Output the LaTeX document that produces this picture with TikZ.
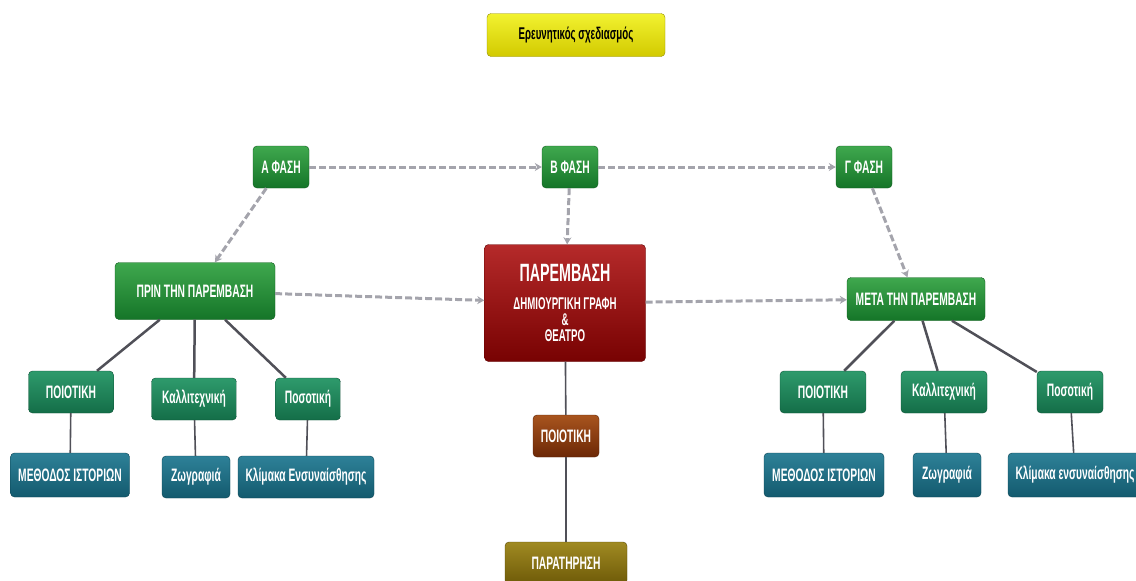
\documentclass[tikz,border=0pt]{standalone}
\usepackage{fontspec}
\setmainfont[FakeStretch=0.57]{Liberation Sans}
\usetikzlibrary{arrows.meta}

\definecolor{phasetop}{HTML}{3FA84E}
\definecolor{phasebot}{HTML}{157528}
\definecolor{phaseline}{HTML}{0E5A1C}
\definecolor{kindtop}{HTML}{2E9A6C}
\definecolor{kindbot}{HTML}{146E48}
\definecolor{kindline}{HTML}{0C5236}
\definecolor{tooltop}{HTML}{2E8198}
\definecolor{toolbot}{HTML}{135A6E}
\definecolor{toolline}{HTML}{0B4352}
\definecolor{redtop}{HTML}{B52A2A}
\definecolor{redbot}{HTML}{780202}
\definecolor{brtop}{HTML}{A8541E}
\definecolor{brbot}{HTML}{6C2806}
\definecolor{olivetop}{HTML}{A08A22}
\definecolor{olivebot}{HTML}{6E5A08}
\definecolor{yeltop}{HTML}{F2F230}
\definecolor{yelbot}{HTML}{D2CA00}
\definecolor{dashgray}{HTML}{A4A4AC}
\definecolor{linkgray}{HTML}{505058}

\begin{document}
\begin{tikzpicture}[
    x=1pt, y=-1pt,
    box/.style={draw, rounded corners=4pt, text=white, align=center, inner sep=2pt,
        font=\bfseries\fontsize{18}{20}\selectfont, minimum height=42},
    phase/.style={box, top color=phasetop, bottom color=phasebot, draw=phaseline, minimum width=56},
    stage/.style={box, top color=phasetop, bottom color=phasebot, draw=phaseline},
    kind/.style={box, top color=kindtop, bottom color=kindbot, draw=kindline},
    tool/.style={box, top color=tooltop, bottom color=toolbot, draw=toolline},
    dasharr/.style={-{Stealth[length=7pt, width=8pt]}, line width=3pt, dash pattern=on 7pt off 3pt, draw=dashgray},
    link/.style={line width=2.5pt, draw=linkgray},
    thinlink/.style={line width=1.6pt, draw=linkgray}
]
\useasboundingbox (0,0) rectangle (1136,581);

% title
\node[box, top color=yeltop, bottom color=yelbot, draw=yelbot!70!black, text=black,
    font=\bfseries\fontsize{17}{19}\selectfont, minimum width=178, minimum height=43] (title) at (576,35) {Ερευνητικός σχεδιασμός};

% phases
\node[phase] (phaseA) at (281,167) {Α ΦΑΣΗ};
\node[phase] (phaseB) at (570,167) {Β ΦΑΣΗ};
\node[phase] (phaseC) at (864,167) {Γ ΦΑΣΗ};

\node[stage, minimum width=160, minimum height=57] (before) at (195,291) {ΠΡΙΝ ΤΗΝ ΠΑΡΕΜΒΑΣΗ};
\node[box, top color=redtop, bottom color=redbot, draw=redbot!80!black,
    font=\bfseries\fontsize{17}{16}\selectfont, minimum width=161, minimum height=117] (interv) at (565,303)
    {{\fontsize{25}{26}\selectfont ΠΑΡΕΜΒΑΣΗ}\\[12pt] ΔΗΜΙΟΥΡΓΙΚΗ ΓΡΑΦΗ\\ \&\\ ΘΕΑΤΡΟ};
\node[stage, minimum width=138, minimum height=43] (after) at (916,299) {ΜΕΤΑ ΤΗΝ ΠΑΡΕΜΒΑΣΗ};

% left branch
\node[kind, minimum width=85] (qualL) at (71,392) {ΠΟΙΟΤΙΚΗ};
\node[kind, minimum width=85] (artL) at (194,399) {Καλλιτεχνική};
\node[kind, minimum width=65] (quantL) at (308,399) {Ποσοτική};
\node[tool, minimum width=119, minimum height=44] (storyL) at (70,475) {ΜΕΘΟΔΟΣ ΙΣΤΟΡΙΩΝ};
\node[tool, minimum width=68] (paintL) at (196,477) {Ζωγραφιά};
\node[tool, minimum width=136] (scaleL) at (306,477) {Κλίμακα Ενσυναίσθησης};

% right branch
\node[kind, minimum width=86] (qualR) at (823,392) {ΠΟΙΟΤΙΚΗ};
\node[kind, minimum width=86] (artR) at (944,392) {Καλλιτεχνική};
\node[kind, minimum width=66] (quantR) at (1070,392) {Ποσοτική};
\node[tool, minimum width=120, minimum height=44] (storyR) at (824,475) {ΜΕΘΟΔΟΣ ΙΣΤΟΡΙΩΝ};
\node[tool, minimum width=68, minimum height=44] (paintR) at (947,475) {Ζωγραφιά};
\node[tool, minimum width=134, minimum height=44] (scaleR) at (1075,475) {Κλίμακα ενσυναίσθησης};

% middle branch
\node[box, top color=brtop, bottom color=brbot, draw=brbot!80!black, minimum width=66] (qualM) at (566,436) {ΠΟΙΟΤΙΚΗ};
\node[box, top color=olivetop, bottom color=olivebot, draw=olivebot!80!black, minimum width=122] (observe) at (566,563) {ΠΑΡΑΤΗΡΗΣΗ};

% dashed flow
\draw[dasharr] (phaseA) -- (phaseB);
\draw[dasharr] (phaseB) -- (phaseC);
\draw[dasharr] (phaseA) -- (before);
\draw[dasharr] (phaseB) -- (interv);
\draw[dasharr] (phaseC) -- (after);
\draw[dasharr] (before) -- (interv);
\draw[dasharr] (interv) -- (after);

% tree links
\draw[link] (before) -- (qualL);
\draw[link] (before) -- (artL);
\draw[link] (before) -- (quantL);
\draw[thinlink] (qualL) -- (storyL);
\draw[thinlink] (artL) -- (paintL);
\draw[thinlink] (quantL) -- (scaleL);
\draw[link] (after) -- (qualR);
\draw[link] (after) -- (artR);
\draw[link] (after) -- (quantR);
\draw[thinlink] (qualR) -- (storyR);
\draw[thinlink] (artR) -- (paintR);
\draw[thinlink] (quantR) -- (scaleR);
\draw[thinlink] (interv) -- (qualM);
\draw[thinlink] (qualM) -- (observe);
\end{tikzpicture}
\end{document}
